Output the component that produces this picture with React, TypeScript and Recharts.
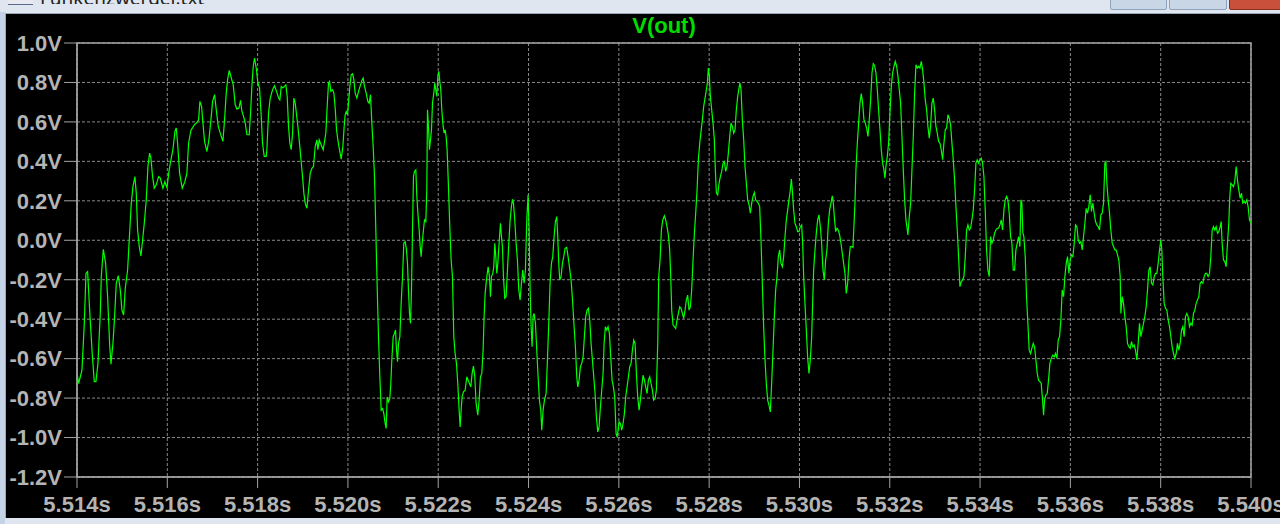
import React from 'react';
import { LineChart, Line, XAxis, YAxis, CartesianGrid, ReferenceArea } from 'recharts';

// time in microseconds after 5.514 s, value in volts
const seg1: [number, number][] = [
  [0, -0.667], [36, -0.726], [110, -0.658], [162, -0.42], [199, -0.167], [235, -0.159], [280, -0.354], [339, -0.582],
  [383, -0.717], [420, -0.717], [464, -0.624], [516, -0.37], [538, -0.184], [582, -0.046], [634, -0.117], [678, -0.286],
  [722, -0.523], [752, -0.628], [796, -0.523], [833, -0.387], [870, -0.218], [914, -0.179], [959, -0.252], [995, -0.354],
  [1032, -0.379], [1069, -0.244], [1121, -0.151], [1165, 0.036], [1202, 0.188], [1239, 0.272], [1283, 0.323], [1313, 0.239],
  [1342, 0.052], [1379, -0.032], [1416, -0.08], [1453, 0.002], [1490, 0.086], [1534, 0.205], [1571, 0.374], [1608, 0.442],
  [1637, 0.416], [1674, 0.323], [1711, 0.264], [1755, 0.281], [1807, 0.323], [1844, 0.315], [1903, 0.264], [1947, 0.298],
  [1992, 0.264], [2036, 0.349], [2080, 0.408], [2124, 0.459], [2169, 0.552], [2198, 0.569], [2228, 0.492], [2272, 0.34],
  [2331, 0.264], [2390, 0.298], [2434, 0.34], [2471, 0.492], [2523, 0.557], [2597, 0.585], [2656, 0.597], [2693, 0.611],
  [2722, 0.704], [2759, 0.679], [2789, 0.594], [2825, 0.501], [2877, 0.45], [2921, 0.509], [2966, 0.611], [3003, 0.704],
  [3047, 0.738], [3084, 0.662], [3128, 0.577], [3172, 0.543], [3231, 0.501], [3268, 0.611], [3305, 0.746], [3335, 0.814],
  [3372, 0.861], [3408, 0.831], [3460, 0.788], [3504, 0.687], [3541, 0.665], [3586, 0.67], [3622, 0.709], [3652, 0.653],
  [3689, 0.628], [3726, 0.594], [3763, 0.535], [3814, 0.535], [3844, 0.645], [3873, 0.78], [3903, 0.882], [3932, 0.924],
  [3969, 0.873], [4006, 0.797], [4043, 0.772], [4080, 0.628], [4109, 0.492], [4146, 0.425], [4191, 0.425],
];

const seg2: [number, number][] = [
  [4205, 0.459], [4242, 0.645], [4279, 0.721], [4331, 0.763], [4375, 0.783], [4419, 0.755], [4464, 0.721], [4493, 0.712],
  [4523, 0.78], [4560, 0.772], [4596, 0.78], [4626, 0.788], [4655, 0.729], [4685, 0.577], [4714, 0.492], [4744, 0.459],
  [4774, 0.543], [4803, 0.721], [4833, 0.695], [4862, 0.636], [4892, 0.577], [4921, 0.509], [4958, 0.416], [4995, 0.323],
  [5024, 0.239], [5054, 0.188], [5091, 0.162], [5128, 0.255], [5165, 0.34], [5202, 0.365], [5238, 0.374], [5275, 0.475],
  [5312, 0.509], [5334, 0.459], [5364, 0.509], [5393, 0.492], [5423, 0.475], [5452, 0.459], [5482, 0.501], [5511, 0.543],
  [5541, 0.679], [5570, 0.797], [5593, 0.805], [5622, 0.755], [5659, 0.763], [5689, 0.746], [5718, 0.67], [5748, 0.56],
  [5777, 0.509], [5807, 0.467], [5851, 0.411], [5888, 0.475], [5917, 0.577], [5939, 0.636], [5962, 0.653], [5991, 0.636],
  [6013, 0.695], [6043, 0.78], [6072, 0.839], [6102, 0.844], [6131, 0.814], [6161, 0.746], [6198, 0.721], [6235, 0.755],
  [6279, 0.788], [6308, 0.81], [6338, 0.822], [6367, 0.78], [6404, 0.746], [6441, 0.704], [6471, 0.695], [6500, 0.738],
  [6530, 0.594], [6559, 0.475], [6589, 0.323], [6618, 0.052], [6648, -0.235], [6677, -0.489], [6707, -0.692], [6736, -0.861],
  [6766, -0.853], [6795, -0.878], [6825, -0.929], [6847, -0.954], [6869, -0.794], [6899, -0.819], [6928, -0.802], [6950, -0.726],
  [6972, -0.607], [7002, -0.489], [7031, -0.472], [7054, -0.455], [7076, -0.557], [7098, -0.616], [7120, -0.523], [7150, -0.489],
  [7179, -0.32], [7209, -0.184], [7238, -0.015], [7268, -0.007], [7297, -0.049], [7319, -0.117], [7341, -0.252], [7364, -0.371],
  [7386, -0.421], [7408, -0.252], [7430, 0.052], [7452, 0.323], [7474, 0.349], [7504, 0.357], [7526, 0.222], [7555, 0.12],
  [7578, 0.052], [7600, -0.032], [7622, -0.083], [7644, -0.015], [7673, 0.052], [7696, 0.103], [7725, 0.095], [7747, 0.255],
  [7762, 0.662], [7784, 0.577], [7806, 0.459], [7828, 0.509], [7851, 0.56], [7873, 0.695], [7902, 0.746], [7924, 0.797],
  [7946, 0.763], [7969, 0.729], [7991, 0.831], [8013, 0.856], [8035, 0.805], [8057, 0.763], [8079, 0.662], [8109, 0.577],
  [8131, 0.543], [8153, 0.56], [8175, 0.526], [8197, 0.459], [8227, 0.272], [8256, 0.069], [8286, -0.1], [8315, -0.184],
  [8345, -0.489], [8374, -0.574], [8404, -0.624], [8433, -0.726], [8463, -0.861], [8485, -0.946], [8507, -0.861], [8529, -0.794],
  [8559, -0.768],
];

const seg3: [number, number][] = [
  [8596, -0.76], [8633, -0.692], [8662, -0.709], [8692, -0.726], [8721, -0.743], [8751, -0.675], [8780, -0.638], [8810, -0.692],
  [8839, -0.827], [8876, -0.887], [8906, -0.81], [8935, -0.692], [8965, -0.675], [8994, -0.557], [9016, -0.387], [9039, -0.269],
  [9068, -0.201], [9105, -0.134], [9134, -0.184], [9157, -0.286], [9179, -0.184], [9208, -0.168], [9230, -0.134], [9253, -0.015],
  [9275, -0.083], [9297, -0.168], [9319, -0.117], [9348, -0.015], [9378, 0.086], [9400, 0.019], [9422, -0.032], [9444, -0.184],
  [9474, -0.294], [9503, -0.286], [9533, -0.151], [9563, -0.015], [9592, 0.103], [9621, 0.171], [9644, 0.208], [9666, 0.188],
  [9695, 0.103], [9725, -0.015], [9754, -0.1], [9784, -0.252], [9813, -0.303], [9843, -0.218], [9872, -0.151], [9902, -0.218],
  [9931, -0.151], [9961, 0.103], [9990, 0.23], [10013, 0.052], [10035, -0.252], [10057, -0.438], [10079, -0.54], [10101, -0.387],
  [10123, -0.371], [10153, -0.421], [10182, -0.557], [10212, -0.692], [10241, -0.81], [10271, -0.861], [10293, -0.963], [10322, -0.861],
  [10352, -0.81], [10389, -0.777], [10418, -0.607], [10448, -0.421], [10477, -0.218], [10507, -0.117], [10536, -0.083], [10566, 0.019],
  [10595, 0.095], [10625, 0.12], [10647, 0.019], [10669, -0.117], [10691, -0.201], [10721, -0.184], [10750, -0.117], [10780, -0.083],
  [10809, -0.041], [10846, -0.036], [10876, -0.083], [10905, -0.134], [10942, -0.201], [10979, -0.32], [11009, -0.438], [11038, -0.54],
  [11068, -0.692], [11090, -0.743], [11119, -0.709], [11149, -0.641], [11178, -0.624], [11208, -0.591], [11237, -0.489], [11267, -0.387],
  [11297, -0.354], [11326, -0.345], [11356, -0.404], [11385, -0.523], [11415, -0.607], [11444, -0.692], [11474, -0.777], [11503, -0.895],
  [11533, -0.971], [11562, -0.946], [11592, -0.844], [11621, -0.76], [11651, -0.675], [11673, -0.523], [11702, -0.438], [11732, -0.455],
  [11761, -0.438], [11791, -0.472], [11820, -0.591], [11850, -0.709], [11879, -0.743], [11909, -0.794], [11939, -0.98], [11961, -0.997],
  [11983, -0.963], [12005, -0.92], [12034, -0.929], [12064, -0.963], [12093, -0.929], [12123, -0.878], [12152, -0.794], [12182, -0.743],
  [12212, -0.692], [12241, -0.641], [12271, -0.624], [12300, -0.557], [12330, -0.506], [12359, -0.523], [12389, -0.675], [12418, -0.794],
  [12448, -0.861], [12477, -0.81], [12507, -0.743], [12536, -0.684], [12566, -0.709], [12595, -0.743], [12625, -0.777], [12654, -0.709],
  [12684, -0.692], [12713, -0.726], [12743, -0.76], [12772, -0.81], [12802, -0.802], [12831, -0.76], [12861, -0.523], [12883, -0.184],
];

const seg4: [number, number][] = [
  [12913, -0.1], [12942, 0.052], [12972, 0.103], [13008, 0.124], [13038, 0.103], [13067, 0.069], [13097, 0.027], [13126, -0.049],
  [13149, -0.184], [13171, -0.354], [13200, -0.43], [13230, -0.438], [13259, -0.447], [13289, -0.404], [13318, -0.371], [13348, -0.337],
  [13377, -0.345], [13407, -0.371], [13436, -0.396], [13466, -0.354], [13495, -0.303], [13525, -0.278], [13554, -0.354], [13584, -0.337],
  [13613, -0.252], [13643, -0.1], [13673, 0.036], [13702, 0.137], [13732, 0.255], [13761, 0.408], [13791, 0.492], [13820, 0.552],
  [13850, 0.611], [13879, 0.679], [13909, 0.721], [13938, 0.763], [13960, 0.797], [13982, 0.873], [14005, 0.831], [14027, 0.729],
  [14056, 0.662], [14086, 0.594], [14115, 0.509], [14137, 0.357], [14160, 0.239], [14189, 0.23], [14219, 0.289], [14248, 0.323],
  [14278, 0.349], [14307, 0.391], [14337, 0.399], [14366, 0.349], [14396, 0.374], [14425, 0.442], [14455, 0.526], [14484, 0.594],
  [14514, 0.577], [14543, 0.543], [14573, 0.56], [14602, 0.662], [14632, 0.729], [14661, 0.772], [14683, 0.797], [14706, 0.763],
  [14735, 0.611], [14765, 0.509], [14794, 0.374], [14824, 0.289], [14853, 0.205], [14883, 0.179], [14912, 0.137], [14942, 0.188],
  [14971, 0.222], [15001, 0.242], [15030, 0.205], [15060, 0.196], [15089, 0.188], [15119, 0.171], [15148, 0.002], [15178, -0.218],
  [15207, -0.438], [15237, -0.607], [15266, -0.726], [15296, -0.81], [15325, -0.836], [15355, -0.87], [15384, -0.726], [15414, -0.557],
  [15444, -0.387], [15473, -0.252], [15503, -0.184], [15532, -0.083], [15562, -0.049], [15591, -0.117], [15621, -0.134], [15650, -0.083],
  [15680, 0.019], [15709, 0.103], [15739, 0.154], [15768, 0.205], [15798, 0.255], [15820, 0.31], [15842, 0.255], [15871, 0.154],
  [15901, 0.086], [15930, 0.069], [15960, 0.044], [15990, 0.044], [16019, 0.069], [16049, 0.078], [16071, -0.015], [16093, -0.184],
  [16122, -0.32], [16152, -0.455], [16181, -0.591], [16211, -0.675], [16240, -0.607], [16270, -0.489], [16292, -0.32], [16314, -0.151],
  [16344, -0.049], [16373, 0.036], [16403, 0.103], [16432, 0.129], [16462, 0.069], [16491, -0.015], [16521, -0.151], [16550, -0.201],
  [16580, -0.1], [16609, -0.049], [16639, 0.086], [16668, 0.154], [16698, 0.188], [16727, 0.225], [16750, 0.188], [16772, 0.12],
  [16801, 0.044], [16831, 0.061], [16860, 0.052], [16890, 0.027], [16919, -0.015], [16949, -0.066], [16978, -0.117], [17008, -0.168],
  [17037, -0.269], [17067, -0.218], [17096, -0.1], [17126, -0.032], [17155, -0.032], [17185, -0.036],
];

const seg5: [number, number][] = [
  [17229, 0.188], [17251, 0.357], [17281, 0.492], [17310, 0.594], [17340, 0.695], [17369, 0.743], [17399, 0.695], [17428, 0.611],
  [17458, 0.594], [17487, 0.569], [17517, 0.526], [17546, 0.611], [17576, 0.712], [17606, 0.848], [17635, 0.895], [17665, 0.885],
  [17694, 0.848], [17724, 0.763], [17753, 0.662], [17783, 0.56], [17812, 0.459], [17842, 0.391], [17871, 0.357], [17893, 0.315],
  [17915, 0.374], [17945, 0.425], [17974, 0.492], [18004, 0.645], [18034, 0.78], [18063, 0.848], [18093, 0.882], [18122, 0.907],
  [18152, 0.882], [18181, 0.831], [18211, 0.763], [18240, 0.695], [18270, 0.526], [18299, 0.357], [18329, 0.205], [18358, 0.103],
  [18388, 0.052], [18402, 0.027], [18432, 0.12], [18462, 0.188], [18491, 0.357], [18521, 0.526], [18550, 0.746], [18580, 0.89],
  [18609, 0.873], [18639, 0.882], [18668, 0.873], [18698, 0.907], [18727, 0.865], [18757, 0.797], [18786, 0.712], [18816, 0.662],
  [18845, 0.577], [18875, 0.518], [18904, 0.577], [18934, 0.695], [18963, 0.721], [18993, 0.662], [19022, 0.577], [19052, 0.543],
  [19081, 0.501], [19111, 0.492], [19140, 0.459], [19170, 0.408], [19199, 0.492], [19229, 0.56], [19258, 0.569], [19288, 0.636],
  [19317, 0.619], [19347, 0.585], [19377, 0.492], [19406, 0.408], [19436, 0.306], [19465, 0.171], [19495, 0.052], [19524, -0.083],
  [19554, -0.235], [19583, -0.21], [19613, -0.201], [19642, -0.184], [19672, -0.083], [19701, 0.052], [19731, 0.078], [19760, 0.052],
  [19790, 0.061], [19819, 0.103], [19849, 0.154], [19878, 0.255], [19908, 0.391], [19937, 0.408], [19967, 0.391], [19996, 0.408],
  [20026, 0.416], [20055, 0.391], [20085, 0.323], [20114, 0.154], [20144, -0.049], [20173, -0.151], [20203, -0.184], [20232, 0.019],
  [20262, -0.015], [20292, 0.002], [20321, 0.036], [20351, 0.052], [20380, 0.061], [20410, 0.061], [20439, 0.078], [20469, 0.103],
  [20498, 0.052], [20528, 0.154], [20557, 0.205], [20587, 0.222], [20616, 0.205], [20646, 0.137], [20675, 0.019], [20705, -0.015],
  [20734, -0.151], [20764, -0.151], [20793, -0.049], [20823, -0.015], [20852, 0.019], [20882, -0.032], [20904, 0.205], [20926, 0.188],
  [20948, 0.036], [20970, 0.019], [21000, -0.083], [21029, -0.286], [21059, -0.421], [21088, -0.557], [21118, -0.574], [21147, -0.548],
  [21177, -0.523], [21207, -0.54], [21236, -0.607], [21266, -0.675], [21295, -0.709], [21325, -0.717], [21354, -0.726], [21384, -0.81],
  [21406, -0.887], [21428, -0.81], [21457, -0.785], [21487, -0.777], [21516, -0.709],
];

const seg6: [number, number][] = [
  [21546, -0.624], [21575, -0.599], [21612, -0.582], [21642, -0.591], [21671, -0.574], [21701, -0.599], [21730, -0.506], [21760, -0.489],
  [21789, -0.404], [21819, -0.252], [21849, -0.286], [21878, -0.184], [21908, -0.117], [21937, -0.083], [21967, -0.168], [21996, -0.1],
  [22026, -0.074], [22055, -0.083], [22085, -0.015], [22114, 0.078], [22144, 0.069], [22173, 0.002], [22203, -0.015], [22232, -0.007],
  [22262, -0.049], [22291, 0.019], [22321, 0.086], [22350, 0.162], [22380, 0.137], [22409, 0.171], [22439, 0.23], [22468, 0.146],
  [22498, 0.188], [22527, 0.137], [22557, 0.095], [22586, 0.078], [22616, 0.069], [22645, 0.052], [22675, 0.129], [22704, 0.137],
  [22734, 0.188], [22763, 0.391], [22786, 0.399], [22808, 0.289], [22837, 0.205], [22867, 0.137], [22896, 0.052], [22926, -0.015],
  [22955, -0.032], [22985, -0.049], [23014, -0.049], [23044, -0.074], [23073, -0.1], [23103, -0.184], [23118, -0.371], [23147, -0.286],
  [23177, -0.32], [23206, -0.387], [23236, -0.438], [23265, -0.523], [23295, -0.54], [23324, -0.548], [23354, -0.514], [23383, -0.54],
  [23413, -0.531], [23442, -0.557], [23472, -0.607], [23501, -0.523], [23531, -0.421], [23560, -0.489], [23590, -0.455], [23619, -0.421],
  [23649, -0.387], [23679, -0.337], [23708, -0.252], [23738, -0.151], [23767, -0.134], [23797, -0.218], [23826, -0.227], [23856, -0.184],
  [23885, -0.168], [23915, -0.168], [23944, -0.117], [23974, -0.049], [24003, 0.002], [24025, -0.049], [24047, -0.184], [24077, -0.32],
  [24107, -0.345], [24136, -0.354], [24166, -0.404], [24195, -0.438], [24225, -0.489], [24254, -0.54], [24284, -0.574], [24313, -0.599],
  [24343, -0.574], [24372, -0.523], [24402, -0.557], [24431, -0.523], [24461, -0.455], [24490, -0.438], [24520, -0.489], [24549, -0.387],
  [24579, -0.371], [24608, -0.387], [24638, -0.438], [24667, -0.421], [24697, -0.43], [24726, -0.371], [24756, -0.354], [24785, -0.32],
  [24815, -0.303], [24844, -0.286], [24874, -0.218], [24903, -0.21], [24933, -0.218], [24962, -0.184], [24992, -0.168], [25021, -0.168],
  [25051, -0.184], [25081, -0.168], [25110, -0.083], [25140, 0.052], [25169, 0.069], [25199, 0.052], [25228, 0.069], [25258, 0.036],
  [25287, 0.044], [25317, 0.069], [25339, 0.095], [25361, -0.015], [25390, -0.1], [25420, -0.108], [25449, -0.134], [25479, -0.015],
  [25508, 0.086], [25531, 0.222], [25553, 0.289], [25582, 0.281], [25612, 0.272], [25641, 0.298], [25671, 0.374], [25700, 0.306],
  [25730, 0.255], [25759, 0.213], [25789, 0.239], [25818, 0.188], [25848, 0.196], [25877, 0.188], [25907, 0.205], [25936, 0.171],
  [25966, 0.103], [26000, 0.086],
];

const timeTicks = [0, 2000, 4000, 6000, 8000, 10000, 12000, 14000, 16000, 18000, 20000, 22000, 24000, 26000];
const timeLabels = ['5.514s', '5.516s', '5.518s', '5.520s', '5.522s', '5.524s', '5.526s', '5.528s', '5.530s', '5.532s', '5.534s', '5.536s', '5.538s', '5.540s'];
const voltTicks = [1.0, 0.8, 0.6, 0.4, 0.2, 0, -0.2, -0.4, -0.6, -0.8, -1.0, -1.2];
const voltLabels = ['1.0V', '0.8V', '0.6V', '0.4V', '0.2V', '0.0V', '-0.2V', '-0.4V', '-0.6V', '-0.8V', '-1.0V', '-1.2V'];

const chartData = [...seg1, ...seg2, ...seg3, ...seg4, ...seg5, ...seg6].map(([t, v]) => ({ t, v }));

const labelFont = {
  fill: '#b4b4b4',
  fontSize: 22,
  fontWeight: 'bold',
  fontFamily: '"Liberation Sans", Arial, sans-serif',
};
const frameColor = '#a4a4a4';

export default function App() {
  return (
    <div style={{ position: 'fixed', left: 0, top: 0, width: 1280, height: 524, overflow: 'hidden', background: '#dfe6ef' }}>
      {/* window chrome, mostly cut off */}
      <div style={{ position: 'absolute', left: 40, top: 0, height: 4, overflow: 'hidden', width: 300 }}>
        <div style={{ position: 'absolute', top: -15, fontSize: 19, fontFamily: '"Noto Sans", sans-serif', color: '#222' }}>
          Funkenzwergel.txt
        </div>
      </div>
      <div style={{ position: 'absolute', left: 8, top: 0, width: 25, height: 4, borderBottom: '1px solid #5a6a8a', background: '#e8e8f0' }} />
      <div style={{ position: 'absolute', left: 1110, top: -2, width: 55, height: 10, background: '#c9d6e5', border: '1px solid #8fa2ba', borderRadius: 2 }} />
      <div style={{ position: 'absolute', left: 1169, top: -2, width: 56, height: 10, background: '#c9d6e5', border: '1px solid #8fa2ba', borderRadius: 2 }} />
      <div style={{ position: 'absolute', left: 1229, top: -2, width: 60, height: 10, background: '#c9503a', border: '1px solid #8a3020', borderRadius: 2 }} />
      <div style={{ position: 'absolute', left: 0, top: 12, width: 5, height: 512, background: '#c4d4e6' }} />
      <div style={{ position: 'absolute', left: 5, top: 13, right: 0, bottom: 6, background: '#000', borderTop: '1px solid #9aa8b8', borderLeft: '1px solid #9aa8b8' }} />
      <div
        style={{
          position: 'absolute',
          left: 77,
          width: 1174,
          top: 12,
          height: 28,
          lineHeight: '28px',
          textAlign: 'center',
          color: '#00dd00',
          fontSize: 22,
          fontWeight: 'bold',
          fontFamily: '"Liberation Sans", Arial, sans-serif',
        }}
      >
        V(out)
      </div>
      <div style={{ position: 'absolute', left: 0, top: 0 }}>
        <LineChart width={1280} height={524} data={chartData} margin={{ top: 43, right: 29, left: 0, bottom: 0 }}>
          <CartesianGrid stroke="#8a8a8a" strokeDasharray="3 2" />
          <XAxis
            type="number"
            dataKey="t"
            domain={[0, 26000]}
            ticks={timeTicks}
            interval={0}
            allowDataOverflow
            tickFormatter={(value: number) => timeLabels[timeTicks.indexOf(value)]}
            height={47}
            tickSize={11}
            tickMargin={8}
            axisLine={{ stroke: frameColor }}
            tickLine={{ stroke: frameColor }}
            tick={labelFont}
          />
          <YAxis
            type="number"
            domain={[-1.2, 1.0]}
            ticks={voltTicks}
            interval={0}
            allowDataOverflow
            tickFormatter={(value: number) => voltLabels[voltTicks.indexOf(value)]}
            width={77}
            tickSize={13}
            tickMargin={2}
            axisLine={{ stroke: frameColor }}
            tickLine={{ stroke: frameColor }}
            tick={labelFont}
          />
          <ReferenceArea x1={0} x2={26000} y1={-1.2} y2={1.0} fill="none" stroke={frameColor} strokeWidth={1.5} />
          <Line
            type="linear"
            dataKey="v"
            stroke="#00ff00"
            strokeWidth={1.2}
            dot={false}
            activeDot={false}
            isAnimationActive={false}
          />
        </LineChart>
      </div>
    </div>
  );
}
